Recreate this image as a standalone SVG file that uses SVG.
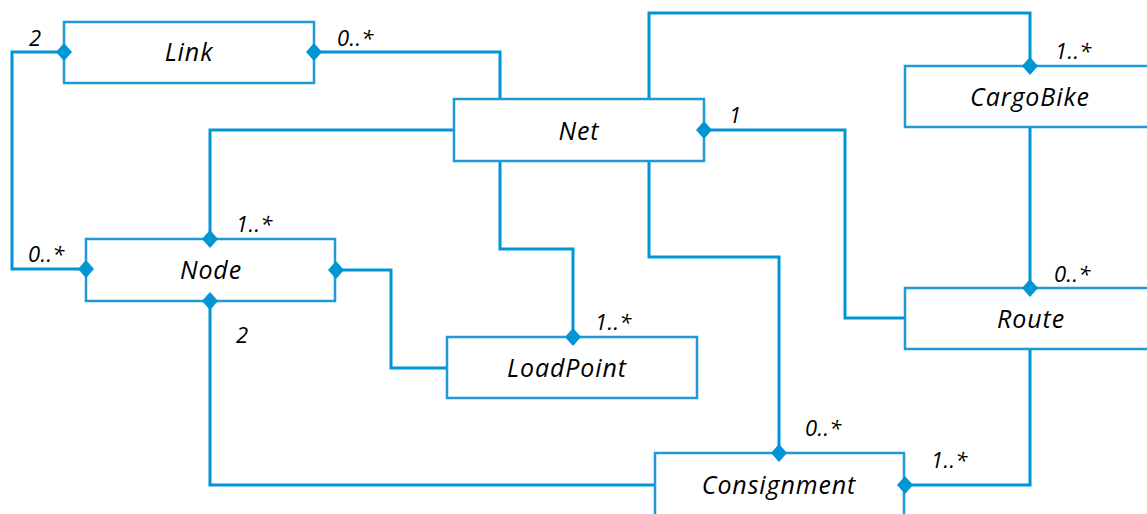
<svg xmlns="http://www.w3.org/2000/svg" xmlns:xlink="http://www.w3.org/1999/xlink" width="1147" height="514" viewBox="0 0 1147 514">
<style>
.box{fill:#fff;stroke:#1e9bd7;stroke-width:2.5}
.name{font-family:"Open Sans","Noto Sans",sans-serif;font-style:italic;font-size:25px;letter-spacing:0.9px;fill:#000;text-anchor:middle}
.mult{font-family:"Open Sans","Noto Sans",sans-serif;font-style:italic;font-size:22px;letter-spacing:0.4px;fill:#000}
.conn{fill:none;stroke:#0095d5;stroke-width:3}
.dia{fill:#0095d5}
</style>
<defs>
<polygon id="d" points="0,-9 8,0 0,9 -8,0"/>
</defs>
<rect width="1147" height="514" fill="#fff"/>
<g id="connectors">
<polyline class="conn" points="64,52 12,52 12,269 86,269"/>
<polyline class="conn" points="314,52 500,52 500,99"/>
<polyline class="conn" points="454,130 210,130 210,239"/>
<polyline class="conn" points="500,161 500,249 573,249 573,337"/>
<polyline class="conn" points="649,99 649,13 1030,13 1030,66"/>
<polyline class="conn" points="704,130 845,130 845,318 905,318"/>
<polyline class="conn" points="649,161 649,257 779,257 779,453"/>
<polyline class="conn" points="1030,127 1030,288"/>
<polyline class="conn" points="336,270 391,270 391,368 447,368"/>
<polyline class="conn" points="210,301 210,485 655,485"/>
<polyline class="conn" points="1030,349 1030,485 905,485"/>
</g>
<g id="Link"><rect class="box" x="64" y="22" width="250" height="61"/><text class="name" x="189" y="61">Link</text></g>
<g id="Net"><rect class="box" x="454" y="99" width="250" height="62"/><text class="name" x="579" y="140">Net</text></g>
<g id="CargoBike"><rect class="box" x="905" y="66" width="252" height="61"/><text class="name" x="1030" y="106">CargoBike</text></g>
<g id="Node"><rect class="box" x="86" y="239" width="249" height="62"/><text class="name" x="211" y="279">Node</text></g>
<g id="LoadPoint"><rect class="box" x="447" y="337" width="250" height="61"/><text class="name" x="567" y="377">LoadPoint</text></g>
<g id="Route"><rect class="box" x="905" y="288" width="252" height="61"/><text class="name" x="1031" y="328">Route</text></g>
<g id="Consignment"><rect class="box" x="655" y="453" width="249" height="70"/><text class="name" x="779" y="494">Consignment</text></g>
<g id="diamonds">
<use xlink:href="#d" class="dia" x="64" y="52"/>
<use xlink:href="#d" class="dia" x="314" y="52"/>
<use xlink:href="#d" class="dia" x="86" y="269"/>
<use xlink:href="#d" class="dia" x="210" y="239"/>
<use xlink:href="#d" class="dia" x="336" y="270"/>
<use xlink:href="#d" class="dia" x="210" y="301"/>
<use xlink:href="#d" class="dia" x="573" y="337"/>
<use xlink:href="#d" class="dia" x="704" y="130"/>
<use xlink:href="#d" class="dia" x="1030" y="66"/>
<use xlink:href="#d" class="dia" x="1030" y="288"/>
<use xlink:href="#d" class="dia" x="779" y="453"/>
<use xlink:href="#d" class="dia" x="905" y="485"/>
</g>
<g id="labels">
<text class="mult" x="29" y="46">2</text>
<text class="mult" x="337" y="46">0..*</text>
<text class="mult" x="729" y="123">1</text>
<text class="mult" x="1055" y="59">1..*</text>
<text class="mult" x="236" y="232">1..*</text>
<text class="mult" x="28" y="262">0..*</text>
<text class="mult" x="236" y="343">2</text>
<text class="mult" x="595" y="330">1..*</text>
<text class="mult" x="1054" y="282">0..*</text>
<text class="mult" x="805" y="436">0..*</text>
<text class="mult" x="931" y="468">1..*</text>
</g>
</svg>
